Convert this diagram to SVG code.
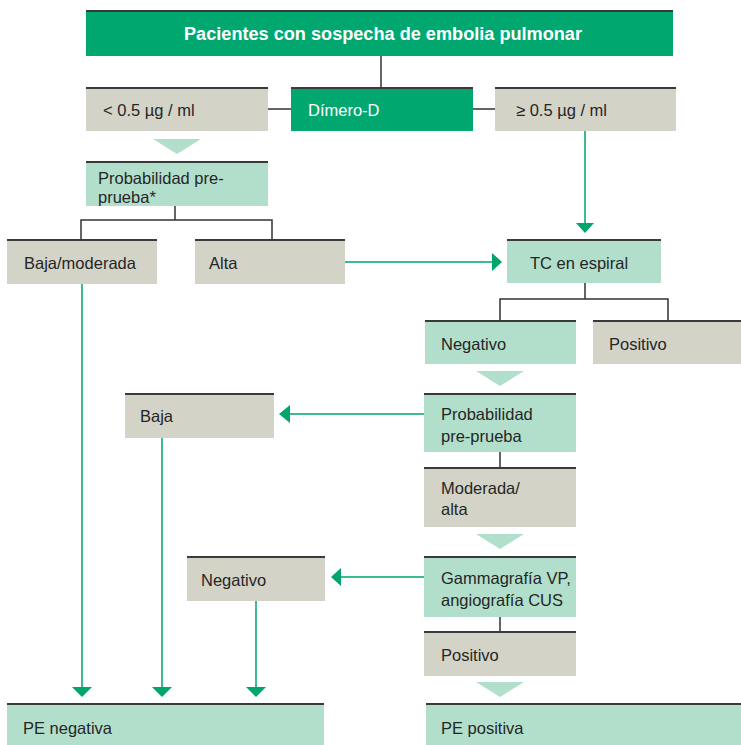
<svg xmlns="http://www.w3.org/2000/svg" width="741" height="745" viewBox="0 0 741 745">
<style>
  .dg{fill:#00a870}
  .lg{fill:#b2dfcb}
  .gr{fill:#d3d3c7}
  .tb{stroke:#3a3a3a;stroke-width:2}
  text{font-family:"Liberation Sans",Arial,sans-serif;font-size:16.5px;fill:#262626}
  .w{fill:#ffffff}
  .title{font-weight:bold;fill:#ffffff;font-size:18px}
  .k{stroke:#333;stroke-width:1.5;fill:none}
  .g{stroke:#3dbb8c;stroke-width:2;fill:none}
  .ah{fill:#00a56c}
  .tri{fill:#b2dfcb}
</style>
<g id="connectors">
  <path class="k" d="M381,56V87M268,109H291M473,109H495"/>
  <path class="k" d="M175,206V220M81,239V220H272V239"/>
  <path class="k" d="M585,283V299M500,320V299H668V320"/>
  <path class="k" d="M500,452V467M500,617V631"/>
  <polygon class="tri" points="153,139 201,139 177,154"/>
  <polygon class="tri" points="476,371 524,371 500,386"/>
  <polygon class="tri" points="476,534 524,534 500,549"/>
  <polygon class="tri" points="476,682 524,682 500,697"/>
  <path class="g" d="M345,262H492"/>
  <polygon class="ah" points="492,253 502,262 492,271"/>
  <path class="g" d="M585,131V223"/>
  <polygon class="ah" points="576,223 594,223 585,233"/>
  <path class="g" d="M424,414H290"/>
  <polygon class="ah" points="290,405 279,414 290,423"/>
  <path class="g" d="M424,577H341"/>
  <polygon class="ah" points="341,568 331,577 341,586"/>
  <path class="g" d="M82,284V687M162,438V687M256,601V687"/>
  <polygon class="ah" points="72,687 92,687 82,697"/>
  <polygon class="ah" points="152,687 172,687 162,697"/>
  <polygon class="ah" points="246,687 266,687 256,697"/>
</g>
<g id="title">
  <rect class="dg" x="86" y="10" width="587" height="46"/>
  <line class="tb" x1="86" y1="11" x2="673" y2="11"/>
  <text class="title" x="184" y="40" textLength="398" lengthAdjust="spacingAndGlyphs">Pacientes con sospecha de embolia pulmonar</text>
</g>
<g id="lt05">
  <rect class="gr" x="86" y="87" width="182" height="44"/>
  <line class="tb" x1="86" y1="88" x2="268" y2="88"/>
  <text x="103" y="116">&lt; 0.5 µg / ml</text>
</g>
<g id="dimero">
  <rect class="dg" x="291" y="87" width="182" height="44"/>
  <line class="tb" x1="291" y1="88" x2="473" y2="88"/>
  <text class="w" x="308" y="116">Dímero-D</text>
</g>
<g id="ge05">
  <rect class="gr" x="495" y="87" width="181" height="44"/>
  <line class="tb" x1="495" y1="88" x2="676" y2="88"/>
  <text x="516" y="116">≥ 0.5 µg / ml</text>
</g>
<g id="prob1">
  <rect class="lg" x="86" y="161" width="182" height="45"/>
  <line class="tb" x1="86" y1="162" x2="268" y2="162"/>
  <text x="98" y="184">Probabilidad pre-</text>
  <text x="98" y="203">prueba*</text>
</g>
<g id="bajamod">
  <rect class="gr" x="7" y="239" width="150" height="45"/>
  <line class="tb" x1="7" y1="240" x2="157" y2="240"/>
  <text x="24" y="269">Baja/moderada</text>
</g>
<g id="alta">
  <rect class="gr" x="195" y="239" width="150" height="45"/>
  <line class="tb" x1="195" y1="240" x2="345" y2="240"/>
  <text x="209" y="269">Alta</text>
</g>
<g id="tc">
  <rect class="lg" x="507" y="239" width="154" height="44"/>
  <line class="tb" x1="507" y1="240" x2="661" y2="240"/>
  <text x="530" y="269">TC en espiral</text>
</g>
<g id="neg1">
  <rect class="lg" x="425" y="320" width="151" height="44"/>
  <line class="tb" x1="425" y1="321" x2="576" y2="321"/>
  <text x="441" y="350">Negativo</text>
</g>
<g id="pos1">
  <rect class="gr" x="593" y="320" width="148" height="44"/>
  <line class="tb" x1="593" y1="321" x2="741" y2="321"/>
  <text x="609" y="350">Positivo</text>
</g>
<g id="prob2">
  <rect class="lg" x="424" y="393" width="152" height="59"/>
  <line class="tb" x1="424" y1="394" x2="576" y2="394"/>
  <text x="441" y="420">Probabilidad</text>
  <text x="441" y="442">pre-prueba</text>
</g>
<g id="baja">
  <rect class="gr" x="125" y="393" width="149" height="45"/>
  <line class="tb" x1="125" y1="394" x2="274" y2="394"/>
  <text x="140" y="422">Baja</text>
</g>
<g id="modalta">
  <rect class="gr" x="424" y="467" width="152" height="60"/>
  <line class="tb" x1="424" y1="468" x2="576" y2="468"/>
  <text x="441" y="494">Moderada/</text>
  <text x="441" y="515">alta</text>
</g>
<g id="gamma">
  <rect class="lg" x="424" y="556" width="152" height="61"/>
  <line class="tb" x1="424" y1="557" x2="576" y2="557"/>
  <text x="441" y="584">Gammagrafía VP,</text>
  <text x="441" y="606">angiografía CUS</text>
</g>
<g id="neg2">
  <rect class="gr" x="187" y="556" width="138" height="45"/>
  <line class="tb" x1="187" y1="557" x2="325" y2="557"/>
  <text x="201" y="586">Negativo</text>
</g>
<g id="pos2">
  <rect class="gr" x="424" y="631" width="152" height="45"/>
  <line class="tb" x1="424" y1="632" x2="576" y2="632"/>
  <text x="441" y="661">Positivo</text>
</g>
<g id="peneg">
  <rect class="lg" x="7" y="703" width="317" height="42"/>
  <line class="tb" x1="7" y1="704" x2="324" y2="704"/>
  <text x="23" y="734">PE negativa</text>
</g>
<g id="pepos">
  <rect class="lg" x="426" y="703" width="315" height="42"/>
  <line class="tb" x1="426" y1="704" x2="741" y2="704"/>
  <text x="441" y="734">PE positiva</text>
</g>
</svg>
